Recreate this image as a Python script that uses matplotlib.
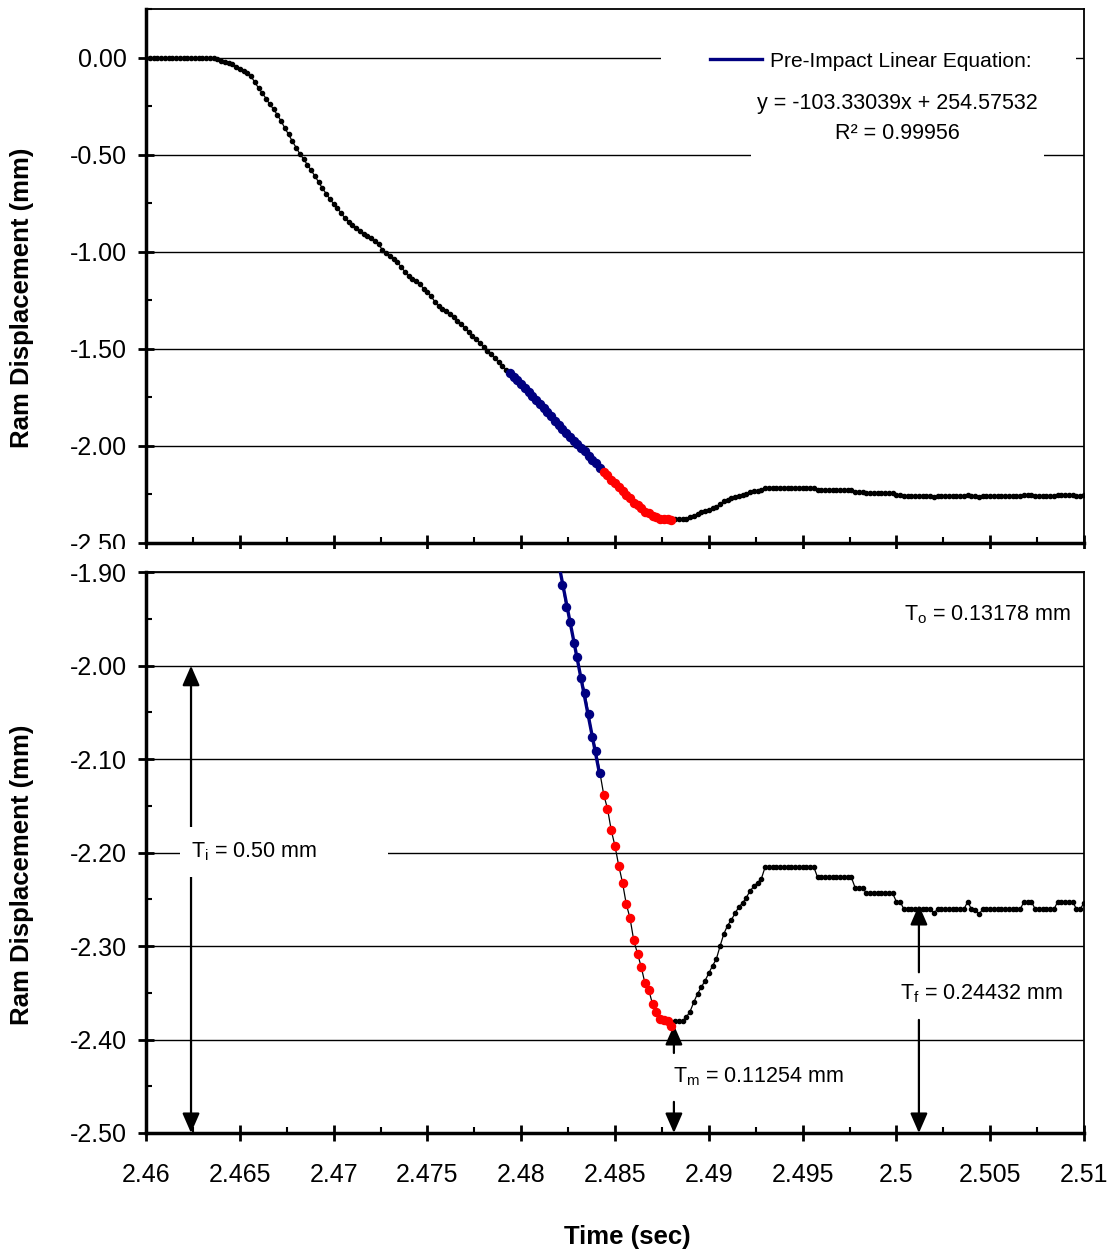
import numpy as np
import matplotlib.pyplot as plt
from matplotlib.patches import Rectangle
from matplotlib.lines import Line2D
from matplotlib.ticker import MultipleLocator, FormatStrFormatter

plt.rcParams['font.family'] = ['Liberation Sans', 'DejaVu Sans']
plt.rcParams['axes.unicode_minus'] = False
plt.rcParams['mathtext.fontset'] = 'custom'
plt.rcParams['mathtext.rm'] = 'Liberation Sans'

# sampled ram displacement (s, mm)
time = [
    2.4600, 2.4602, 2.4604, 2.4606, 2.4608, 2.4610, 2.4612, 2.4614, 2.4616, 2.4618,
    2.4620, 2.4622, 2.4624, 2.4626, 2.4628, 2.4630, 2.4632, 2.4634, 2.4636, 2.4638,
    2.4640, 2.4642, 2.4644, 2.4646, 2.4648, 2.4650, 2.4652, 2.4654, 2.4656, 2.4658,
    2.4660, 2.4662, 2.4664, 2.4666, 2.4668, 2.4670, 2.4672, 2.4674, 2.4676, 2.4678,
    2.4680, 2.4682, 2.4684, 2.4686, 2.4688, 2.4690, 2.4692, 2.4694, 2.4696, 2.4698,
    2.4700, 2.4702, 2.4704, 2.4706, 2.4708, 2.4710, 2.4712, 2.4714, 2.4716, 2.4718,
    2.4720, 2.4722, 2.4724, 2.4726, 2.4728, 2.4730, 2.4732, 2.4734, 2.4736, 2.4738,
    2.4740, 2.4742, 2.4744, 2.4746, 2.4748, 2.4750, 2.4752, 2.4754, 2.4756, 2.4758,
    2.4760, 2.4762, 2.4764, 2.4766, 2.4768, 2.4770, 2.4772, 2.4774, 2.4776, 2.4778,
    2.4780, 2.4782, 2.4784, 2.4786, 2.4788, 2.4790, 2.4792, 2.4794, 2.4796, 2.4798,
    2.4800, 2.4802, 2.4804, 2.4806, 2.4808, 2.4810, 2.4812, 2.4814, 2.4816, 2.4818,
    2.4820, 2.4822, 2.4824, 2.4826, 2.4828, 2.4830, 2.4832, 2.4834, 2.4836, 2.4838,
    2.4840, 2.4842, 2.4844, 2.4846, 2.4848, 2.4850, 2.4852, 2.4854, 2.4856, 2.4858,
    2.4860, 2.4862, 2.4864, 2.4866, 2.4868, 2.4870, 2.4872, 2.4874, 2.4876, 2.4878,
    2.4880, 2.4882, 2.4884, 2.4886, 2.4888, 2.4890, 2.4892, 2.4894, 2.4896, 2.4898,
    2.4900, 2.4902, 2.4904, 2.4906, 2.4908, 2.4910, 2.4912, 2.4914, 2.4916, 2.4918,
    2.4920, 2.4922, 2.4924, 2.4926, 2.4928, 2.4930, 2.4932, 2.4934, 2.4936, 2.4938,
    2.4940, 2.4942, 2.4944, 2.4946, 2.4948, 2.4950, 2.4952, 2.4954, 2.4956, 2.4958,
    2.4960, 2.4962, 2.4964, 2.4966, 2.4968, 2.4970, 2.4972, 2.4974, 2.4976, 2.4978,
    2.4980, 2.4982, 2.4984, 2.4986, 2.4988, 2.4990, 2.4992, 2.4994, 2.4996, 2.4998,
    2.5000, 2.5002, 2.5004, 2.5006, 2.5008, 2.5010, 2.5012, 2.5014, 2.5016, 2.5018,
    2.5020, 2.5022, 2.5024, 2.5026, 2.5028, 2.5030, 2.5032, 2.5034, 2.5036, 2.5038,
    2.5040, 2.5042, 2.5044, 2.5046, 2.5048, 2.5050, 2.5052, 2.5054, 2.5056, 2.5058,
    2.5060, 2.5062, 2.5064, 2.5066, 2.5068, 2.5070, 2.5072, 2.5074, 2.5076, 2.5078,
    2.5080, 2.5082, 2.5084, 2.5086, 2.5088, 2.5090, 2.5092, 2.5094, 2.5096, 2.5098,
    2.5100,
]
disp = [
    0.000, 0.000, 0.000, 0.000, 0.000, 0.000, 0.000, 0.000, 0.000, 0.000,
    0.000, 0.000, 0.000, 0.000, 0.000, 0.000, 0.000, 0.000, 0.000, -0.005,
    -0.019, -0.022, -0.026, -0.031, -0.045, -0.058, -0.070, -0.080, -0.096, -0.126,
    -0.156, -0.182, -0.210, -0.240, -0.265, -0.294, -0.326, -0.362, -0.395, -0.430,
    -0.463, -0.495, -0.522, -0.551, -0.580, -0.609, -0.640, -0.672, -0.700, -0.728,
    -0.752, -0.776, -0.800, -0.826, -0.845, -0.862, -0.878, -0.892, -0.906, -0.918,
    -0.930, -0.945, -0.962, -0.990, -1.005, -1.020, -1.036, -1.055, -1.078, -1.103,
    -1.127, -1.140, -1.153, -1.168, -1.190, -1.208, -1.230, -1.258, -1.282, -1.294,
    -1.306, -1.320, -1.338, -1.356, -1.374, -1.393, -1.414, -1.432, -1.450, -1.471,
    -1.492, -1.510, -1.528, -1.550, -1.570, -1.590, -1.608, -1.627, -1.645, -1.662,
    -1.683, -1.704, -1.724, -1.745, -1.763, -1.785, -1.806, -1.828, -1.849, -1.870,
    -1.891, -1.914, -1.937, -1.953, -1.976, -1.991, -2.013, -2.029, -2.052, -2.076,
    -2.091, -2.115, -2.138, -2.153, -2.176, -2.193, -2.214, -2.232, -2.255, -2.270,
    -2.294, -2.308, -2.3225, -2.340, -2.347, -2.362, -2.370, -2.378, -2.379, -2.380,
    -2.385, -2.380, -2.380, -2.380, -2.376, -2.370, -2.360, -2.351, -2.344, -2.337,
    -2.329, -2.321, -2.314, -2.300, -2.287, -2.278, -2.272, -2.265, -2.258, -2.254,
    -2.248, -2.241, -2.236, -2.232, -2.228, -2.2155, -2.2155, -2.2155, -2.2155, -2.2155,
    -2.2155, -2.2155, -2.2155, -2.2155, -2.2155, -2.2155, -2.2155, -2.2155, -2.2155, -2.2265,
    -2.2265, -2.2265, -2.2265, -2.2265, -2.2265, -2.2265, -2.2265, -2.2265, -2.2265, -2.2375,
    -2.2375, -2.2375, -2.2435, -2.2435, -2.2435, -2.2435, -2.2435, -2.2435, -2.2435, -2.2435,
    -2.2525, -2.2525, -2.2605, -2.2605, -2.2605, -2.2605, -2.2605, -2.2605, -2.2605, -2.2605,
    -2.2645, -2.2605, -2.2605, -2.2605, -2.2605, -2.2605, -2.2605, -2.2605, -2.2605, -2.2525,
    -2.2605, -2.2615, -2.2660, -2.2605, -2.2605, -2.2605, -2.2605, -2.2605, -2.2605, -2.2605,
    -2.2605, -2.2605, -2.2605, -2.2605, -2.2525, -2.2525, -2.2525, -2.2605, -2.2605, -2.2605,
    -2.2605, -2.2605, -2.2605, -2.2525, -2.2525, -2.2525, -2.2525, -2.2525, -2.2605, -2.2605,
    -2.2535,
]

pre_impact = (2.4794, 2.4842)   # blue points, used for the linear fit
impact = (2.4844, 2.4880)       # red points
slope = -103.33039
intercept = 254.57532
r_squared = 0.99956

xticks = [2.46, 2.465, 2.47, 2.475, 2.48, 2.485, 2.49, 2.495, 2.5, 2.505, 2.51]
xticklabels = ['2.46', '2.465', '2.47', '2.475', '2.48', '2.485', '2.49',
               '2.495', '2.5', '2.505', '2.51']
top_yticks = [0.0, -0.5, -1.0, -1.5, -2.0, -2.5]
bot_yticks = [-1.9, -2.0, -2.1, -2.2, -2.3, -2.4, -2.5]

t = np.array(time)
d = np.array(disp)
pre = (t > pre_impact[0] - 1e-6) & (t < pre_impact[1] + 1e-6)
imp = (t > impact[0] - 1e-6) & (t < impact[1] + 1e-6)
fit_t = t[pre]
fit_d = slope * fit_t + intercept

NAVY = '#000080'
W, H = 1115, 1255
fig = plt.figure(figsize=(W / 100, H / 100), dpi=100)
ax1 = fig.add_axes([146 / W, 1 - 542.7 / H, 938 / W, 533.4 / H])
ax2 = fig.add_axes([146 / W, 1 - 1133 / H, 938 / W, 560.7 / H])
ax1.set_zorder(0)
ax2.set_zorder(2)
# white chart area of the lower plot, hides part of the upper "-2.50"
fig.add_artist(Rectangle((0, 0), 1, (H - 549) / H, transform=fig.transFigure,
                         facecolor='white', edgecolor='none', zorder=1))

for ax in (ax1, ax2):
    ax.plot(t, d, color='black', lw=0.9, marker='o', ms=3.0, zorder=3)
    ax.plot(fit_t, fit_d, color=NAVY, lw=2.4, zorder=3.5)
    ax.plot(t[pre], d[pre], ls='none', marker='o', ms=5.8, color=NAVY, zorder=4)
    ax.plot(t[imp], d[imp], ls='none', marker='o', ms=5.8, color='red', zorder=4)

    ax.set_xlim(2.46, 2.51)
    ax.set_xticks(xticks)
    ax.set_xticklabels(xticklabels)
    ax.xaxis.set_minor_locator(MultipleLocator(0.0025))
    ax.yaxis.set_major_formatter(FormatStrFormatter('%.2f'))
    ax.grid(axis='y', which='major', color='black', lw=1.0)
    ax.tick_params(which='major', direction='inout', length=11, width=2,
                   labelsize=18, color='black')
    ax.tick_params(which='minor', direction='in', length=4.5, width=1.5)
    ax.tick_params(axis='y', which='major', pad=8)
    ax.tick_params(axis='x', which='major', pad=16)
    for s in ('left', 'bottom'):
        ax.spines[s].set_linewidth(2.5)
    for s in ('top', 'right'):
        ax.spines[s].set_linewidth(1.3)
    ax.set_ylabel('Ram Displacement (mm)', fontsize=18.5, fontweight='bold', va='center')

# upper plot: whole stroke
ax1.set_ylim(-2.5, 0.25)
ax1.set_yticks(top_yticks)
ax1.yaxis.set_minor_locator(MultipleLocator(0.25))
ax1.tick_params(labelbottom=False)
ax1.yaxis.set_label_coords(-0.132, 0.459)

ax1.add_patch(Rectangle((0.549, 0.8675), 0.4425, 0.075, transform=ax1.transAxes,
                        facecolor='white', edgecolor='none', zorder=6))
ax1.add_patch(Rectangle((0.645, 0.714), 0.312, 0.138, transform=ax1.transAxes,
                        facecolor='white', edgecolor='none', zorder=6))
leg = ax1.legend(handles=[Line2D([], [], color=NAVY, lw=2.4)],
                 labels=['Pre-Impact Linear Equation:'],
                 loc='center left', bbox_to_anchor=(0.601, 0.903), frameon=False,
                 borderpad=0, borderaxespad=0, handlelength=2.5, handletextpad=0.35,
                 fontsize=15.1)
leg.set_zorder(8)
ax1.text(2.50007, -0.2335, f'y = {slope:.5f}x + {intercept:.5f}', ha='center',
         va='center', fontsize=15.5, zorder=8)
ax1.text(2.50007, -0.388, f'R\u00b2 = {r_squared:.5f}', ha='center', va='center',
         fontsize=15.5, zorder=8)

# lower plot: zoom on the impact
ax2.set_ylim(-2.5, -1.9)
ax2.set_yticks(bot_yticks)
ax2.yaxis.set_minor_locator(MultipleLocator(0.05))
ax2.yaxis.set_label_coords(-0.132, 0.46)
ax2.set_xlabel('Time (sec)', fontsize=18.5, fontweight='bold', va='center')
ax2.xaxis.set_label_coords(0.513, -0.1855)


def arrow(ax, x, y0, y1, style='-|>'):
    ax.annotate('', xy=(x, y1), xytext=(x, y0), zorder=3,
                arrowprops=dict(arrowstyle=style + ',head_length=0.8,head_width=0.35',
                                color='black', lw=1.6, shrinkA=0, shrinkB=0,
                                mutation_scale=15))


arrow(ax2, 2.4624, -2.2, -2.0)
arrow(ax2, 2.4624, -2.2, -2.5)
arrow(ax2, 2.48814, -2.4144, -2.3844)
arrow(ax2, 2.48814, -2.4667, -2.5)
arrow(ax2, 2.5012, -2.328, -2.256)
arrow(ax2, 2.5012, -2.379, -2.5)

ax2.add_patch(Rectangle((0.0362, 0.4566), 0.2218, 0.0892, transform=ax2.transAxes,
                        facecolor='white', edgecolor='none', zorder=6))
fs = 15.5
ax2.text(2.50041, -1.9457, r'T$_\mathrm{o}$ = 0.13178 mm', ha='left', va='center',
         fontsize=fs, zorder=8)
ax2.text(2.4624, -2.1993, r'T$_\mathrm{i}$ = 0.50 mm', ha='left', va='center',
         fontsize=fs, zorder=8)
ax2.text(2.48809, -2.440, r'T$_\mathrm{m}$ = 0.11254 mm', ha='left', va='center',
         fontsize=fs, zorder=8)
ax2.text(2.50018, -2.351, r'T$_\mathrm{f}$ = 0.24432 mm', ha='left', va='center',
         fontsize=fs, zorder=8)

fig.savefig('out.png', dpi=100)
